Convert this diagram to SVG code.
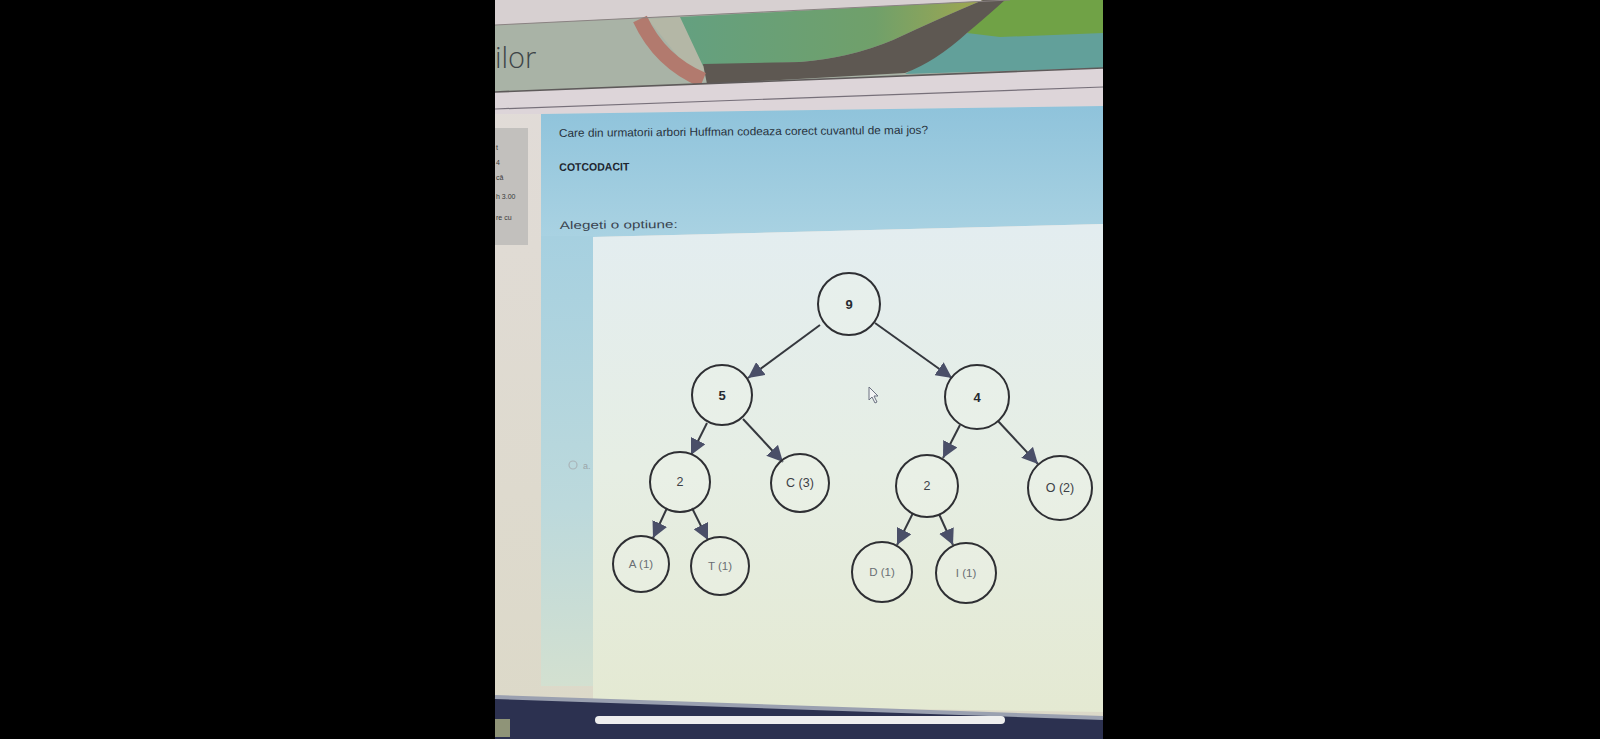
<svg xmlns="http://www.w3.org/2000/svg" width="1600" height="739" viewBox="0 0 1600 739">
<defs>
<style>
.node circle{fill:#eef3ec;fill-opacity:0.35;stroke:#2e2f33;stroke-width:2}
.lbl{font-family:"Liberation Sans",Arial,sans-serif;text-anchor:middle;dominant-baseline:central}
.dark{fill:#262a30;font-weight:bold;font-size:13px}
.mid{fill:#3c4046;font-size:12.5px}
.light{fill:#6a6e74;font-size:11.5px}
.edge{stroke:#35383e;stroke-width:2;fill:none;marker-end:url(#ah)}
.ui{font-family:"Liberation Sans",Arial,sans-serif}
</style>
<marker id="ah" markerUnits="userSpaceOnUse" markerWidth="18" markerHeight="16" refX="16" refY="8" orient="auto">
<path d="M0,0 L16,8 L0,16 Z" fill="#4a4f68"/>
</marker>
<linearGradient id="bg" x1="0" y1="0" x2="0" y2="1">
<stop offset="0" stop-color="#e3edf0"/>
<stop offset="0.5" stop-color="#e6eee4"/>
<stop offset="1" stop-color="#e4e9d2"/>
</linearGradient>
<linearGradient id="blue" x1="0" y1="0" x2="0" y2="1">
<stop offset="0" stop-color="#8fc3db"/>
<stop offset="1" stop-color="#a9d2e2"/>
</linearGradient>
<linearGradient id="bcol" x1="0" y1="0" x2="0" y2="1">
<stop offset="0" stop-color="#a6d0e0"/>
<stop offset="0.6" stop-color="#bcd9dc"/>
<stop offset="1" stop-color="#d3e0d0"/>
</linearGradient>
<linearGradient id="leftg" x1="0" y1="0" x2="0" y2="1">
<stop offset="0" stop-color="#e2dcda"/>
<stop offset="1" stop-color="#dcd9c8"/>
</linearGradient>
<linearGradient id="gy" x1="0" y1="0" x2="1" y2="0">
<stop offset="0" stop-color="#64a080"/>
<stop offset="0.6" stop-color="#70a06a"/>
<stop offset="1" stop-color="#aaa84a"/>
</linearGradient>
</defs>

<rect x="0" y="0" width="1600" height="739" fill="#000"/>

<g id="page">
<rect x="495" y="0" width="608" height="739" fill="url(#leftg)"/>
<polygon points="495,0 1010,0 495,25" fill="#d7d0d1"/>
<polygon points="495,25 1005,0 1103,0 1103,68 495,92" fill="#a9b3a6"/>
<polygon points="648,19 682,17 705,66 700,84" fill="#b4b7a6"/>
<path d="M680,17 L1005,0 L983,0 Q940,18 893,40 Q850,58 800,62 L703,66 Z" fill="url(#gy)"/>
<polygon points="1003,0 1103,0 1103,68 905,74 967,33" fill="#62a09a"/>
<polygon points="1003,0 1103,0 1103,33 1000,37 967,33" fill="#70a246"/>
<path d="M703,64 L800,62 Q850,58 893,40 Q940,18 983,0 L1005,0 Q985,18 967,33 Q935,62 905,73 L707,84 Z" fill="#5e5852"/>
<path d="M640,19 Q660,62 703,80" stroke="#b27a6e" stroke-width="15" fill="none"/>
<line x1="495" y1="25" x2="1010" y2="0" stroke="#8a8282" stroke-width="1"/>
<text x="495" y="68" font-family="'Open Sans','Liberation Sans',sans-serif" font-weight="300" font-size="29" fill="#3e4548">ilor</text>
<polygon points="495,92 1103,68 1103,106 541,114 495,114" fill="#ddd5d9"/>
<line x1="495" y1="92" x2="1103" y2="68" stroke="#5e5a5a" stroke-width="1.6"/>
<line x1="495" y1="109" x2="1103" y2="87" stroke="#77707a" stroke-width="1.2"/>
<polygon points="541,114 1103,106 1103,224 593,237 541,237" fill="url(#blue)"/>
<rect x="541" y="236" width="52" height="450" fill="url(#bcol)"/>
<polygon points="593,237 1103,224 1103,712 593,704" fill="url(#bg)"/>
<rect x="495" y="128" width="33" height="117" fill="#c2c0bd"/>
<g class="ui" font-size="7" fill="#3a3a3a">
<text x="496" y="150">t</text>
<text x="496" y="165">4</text>
<text x="496" y="180">că</text>
<text x="496" y="199">h 3.00</text>
<text x="496" y="220">re cu</text>
</g>
<g transform="rotate(-0.5 559 133)">
<text class="ui" x="559" y="137" font-size="11.5" fill="#28323c" textLength="369" lengthAdjust="spacingAndGlyphs">Care din urmatorii arbori Huffman codeaza corect cuvantul de mai jos?</text>
<text class="ui" x="559" y="171" font-size="11" font-weight="bold" fill="#1e2630" textLength="70" lengthAdjust="spacingAndGlyphs">COTCODACIT</text>
<text class="ui" x="559" y="229" font-size="11" fill="#3a4450" textLength="118" lengthAdjust="spacingAndGlyphs">Alegeti o optiune:</text>
</g>
<circle cx="573" cy="465" r="4" fill="none" stroke="#a9b4b8" stroke-width="1.2"/>
<text class="ui" x="583" y="469" font-size="9" fill="#9aa4a8">a.</text>
<path d="M869,387 L869,400 L872,397 L875,403 L877,402 L874,396 L878,396 Z" fill="#f2f4f4" stroke="#6a7080" stroke-width="1"/>
<polygon points="495,697 1103,718 1103,739 495,739" fill="#2c3150"/>
<line x1="495" y1="697" x2="1103" y2="718" stroke="#9aa0b0" stroke-width="4"/>
<rect x="595" y="716" width="410" height="8" rx="4" fill="#eeeeee"/>
<rect x="495" y="719" width="15" height="18" fill="#8f9478"/>
</g>

<g id="connectors">
<line class="edge" x1="820" y1="325" x2="748" y2="378"/>
<line class="edge" x1="875" y1="323" x2="952" y2="378"/>
<line class="edge" x1="707" y1="423" x2="691" y2="455"/>
<line class="edge" x1="743" y1="419" x2="783" y2="462"/>
<line class="edge" x1="960" y1="425" x2="943" y2="458"/>
<line class="edge" x1="998" y1="421" x2="1038" y2="464"/>
<line class="edge" x1="667" y1="508" x2="653" y2="538"/>
<line class="edge" x1="692" y1="508" x2="708" y2="540"/>
<line class="edge" x1="913" y1="513" x2="897" y2="545"/>
<line class="edge" x1="939" y1="514" x2="953" y2="545"/>
</g>

<g id="n9" class="node"><circle cx="849" cy="304" r="31"/><text class="lbl dark" x="849" y="304">9</text></g>
<g id="n5" class="node"><circle cx="722" cy="395" r="30"/><text class="lbl dark" x="722" y="395" font-size="12">5</text></g>
<g id="n4" class="node"><circle cx="977" cy="397" r="32"/><text class="lbl dark" x="977" y="397">4</text></g>
<g id="n2a" class="node"><circle cx="680" cy="482" r="30"/><text class="lbl mid" x="680" y="482">2</text></g>
<g id="nC" class="node"><circle cx="800" cy="483" r="29"/><text class="lbl mid" x="800" y="483">C (3)</text></g>
<g id="n2b" class="node"><circle cx="927" cy="486" r="31"/><text class="lbl mid" x="927" y="486">2</text></g>
<g id="nO" class="node"><circle cx="1060" cy="488" r="32"/><text class="lbl mid" x="1060" y="488" font-size="13.5">O (2)</text></g>
<g id="nA" class="node"><circle cx="641" cy="564" r="28"/><text class="lbl light" x="641" y="564">A (1)</text></g>
<g id="nT" class="node"><circle cx="720" cy="566" r="29"/><text class="lbl light" x="720" y="566">T (1)</text></g>
<g id="nD" class="node"><circle cx="882" cy="572" r="30"/><text class="lbl light" x="882" y="572">D (1)</text></g>
<g id="nI" class="node"><circle cx="966" cy="573" r="30"/><text class="lbl light" x="966" y="573">I (1)</text></g>
</svg>
